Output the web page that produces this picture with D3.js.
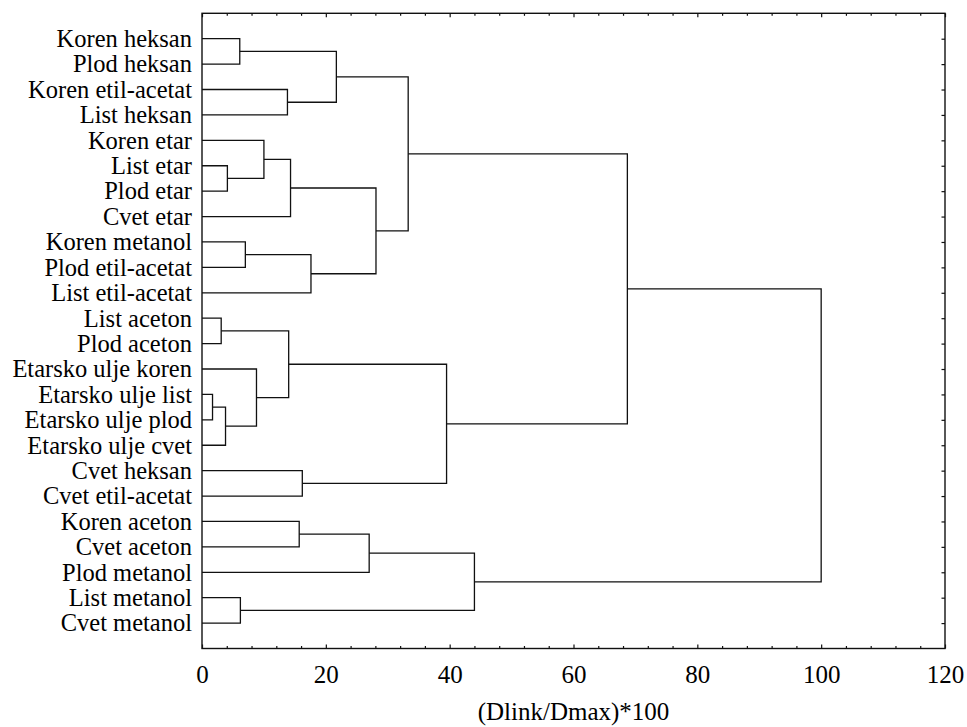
<!DOCTYPE html>
<html>
<head>
<meta charset="utf-8">
<script src="https://cdn.jsdelivr.net/npm/d3@7"></script>
<style>
  html, body { margin: 0; padding: 0; background: #fff; }
  svg { display: block; }
  svg text { font-family: "Liberation Serif", "Times New Roman", Times, serif !important; fill: #000; }
</style>
</head>
<body>
<svg id="chart" width="967" height="727"></svg>
<script>
// Leaves, top to bottom
const leaves = [
  "Koren heksan", "Plod heksan", "Koren etil-acetat", "List heksan",
  "Koren etar", "List etar", "Plod etar", "Cvet etar",
  "Koren metanol", "Plod etil-acetat", "List etil-acetat",
  "List aceton", "Plod aceton",
  "Etarsko ulje koren", "Etarsko ulje list", "Etarsko ulje plod", "Etarsko ulje cvet",
  "Cvet heksan", "Cvet etil-acetat",
  "Koren aceton", "Cvet aceton", "Plod metanol", "List metanol", "Cvet metanol"
];

// Merge steps: children (leaf name or "#k" = k-th merge) and linkage distance
const mergeA = [
  "Koren heksan", "Koren etil-acetat", "#0",
  "List etar", "Koren etar", "#4",
  "Koren metanol", "#6", "#5", "#2",
  "List aceton", "Etarsko ulje list", "#11", "Etarsko ulje koren", "#10",
  "Cvet heksan", "#14", "#9",
  "Koren aceton", "#18", "List metanol", "#19", "#17"
];
const mergeB = [
  "Plod heksan", "List heksan", "#1",
  "Plod etar", "#3", "Cvet etar",
  "Plod etil-acetat", "List etil-acetat", "#7", "#8",
  "Plod aceton", "Etarsko ulje plod", "Etarsko ulje cvet", "#12", "#13",
  "Cvet etil-acetat", "#15", "#16",
  "Cvet aceton", "Plod metanol", "Cvet metanol", "#20", "#21"
];
const mergeHeight = [
  6.1, 13.8, 21.7,
  4.1, 10.0, 14.3,
  7.0, 17.6, 28.1, 33.3,
  3.1, 1.7, 3.8, 8.8, 14.0,
  16.2, 39.5, 68.7,
  15.7, 27.0, 6.2, 44.0, 100
];

const xMajorTicks = [0, 20, 40, 60, 80, 100, 120];
const xAxisTitle = "(Dlink/Dmax)*100";

(function () {
const svg = d3.select("#chart");
const mLeft = 202, mRight = 945, mTop = 13.3, mBottom = 648.5;
const serif = '"Liberation Serif", "Times New Roman", Times, serif';

const x = d3.scaleLinear().domain([0, 120]).range([mLeft, mRight]);
const y = d3.scaleLinear().domain([0, leaves.length + 1]).range([mTop, mBottom]);

const merged = [];
function nodePos(ref) {
  if (ref.startsWith("#")) return merged[+ref.slice(1)];
  return { h: 0, y: y(leaves.indexOf(ref) + 1) };
}
const links = [];
mergeHeight.forEach((h, i) => {
  const a = nodePos(mergeA[i]);
  const b = nodePos(mergeB[i]);
  merged.push({ h: h, y: (a.y + b.y) / 2 });
  links.push({ a, b, h });
});

const stroke = "#111";

svg.append("g").selectAll("path").data(links).join("path")
  .attr("fill", "none")
  .attr("stroke", stroke)
  .attr("stroke-width", 1.3)
  .attr("d", d => `M${x(d.a.h)},${d.a.y}H${x(d.h)}V${d.b.y}H${x(d.b.h)}`);

svg.append("rect")
  .attr("x", mLeft).attr("y", mTop)
  .attr("width", mRight - mLeft).attr("height", mBottom - mTop)
  .attr("fill", "none").attr("stroke", stroke).attr("stroke-width", 1.4);

const minorTicks = d3.range(0, 121, 4).filter(v => v % 20 !== 0);

function styleAxis(g) {
  g.attr("font-family", null);
  g.select(".domain").remove();
  g.selectAll(".tick line").attr("stroke", stroke).attr("stroke-width", 1.2);
}

svg.append("g").attr("transform", `translate(0,${mBottom})`)
  .call(d3.axisBottom(x).tickValues(xMajorTicks).tickSize(-4).tickPadding(17).tickFormat(d3.format("d")))
  .call(styleAxis)
  .call(g => g.selectAll("text").style("font-size", "25px").style("font-family", serif).attr("fill", "#000"));
svg.append("g").attr("transform", `translate(0,${mBottom})`)
  .call(d3.axisBottom(x).tickValues(minorTicks).tickSize(-2.5).tickFormat(""))
  .call(styleAxis);

svg.append("g").attr("transform", `translate(0,${mTop})`)
  .call(d3.axisTop(x).tickValues(xMajorTicks).tickSize(-4).tickFormat(""))
  .call(styleAxis);
svg.append("g").attr("transform", `translate(0,${mTop})`)
  .call(d3.axisTop(x).tickValues(minorTicks).tickSize(-2.5).tickFormat(""))
  .call(styleAxis);

svg.append("g").attr("transform", `translate(${mRight},0)`)
  .call(d3.axisRight(y).tickValues(d3.range(1, leaves.length + 1)).tickSize(-3.5).tickFormat(""))
  .call(styleAxis);

svg.append("g").attr("transform", `translate(${mLeft},0)`)
  .call(d3.axisLeft(y).tickValues(d3.range(1, leaves.length + 1)).tickSize(0).tickPadding(10)
    .tickFormat(i => leaves[i - 1]))
  .call(styleAxis)
  .call(g => g.selectAll("text").style("font-size", "24.5px").style("font-family", serif).attr("fill", "#000"));

svg.append("text")
  .attr("x", (mLeft + mRight) / 2).attr("y", 720)
  .attr("text-anchor", "middle")
  .style("font-size", "25px")
  .style("font-family", serif)
  .text(xAxisTitle);
})();
</script>
</body>
</html>
